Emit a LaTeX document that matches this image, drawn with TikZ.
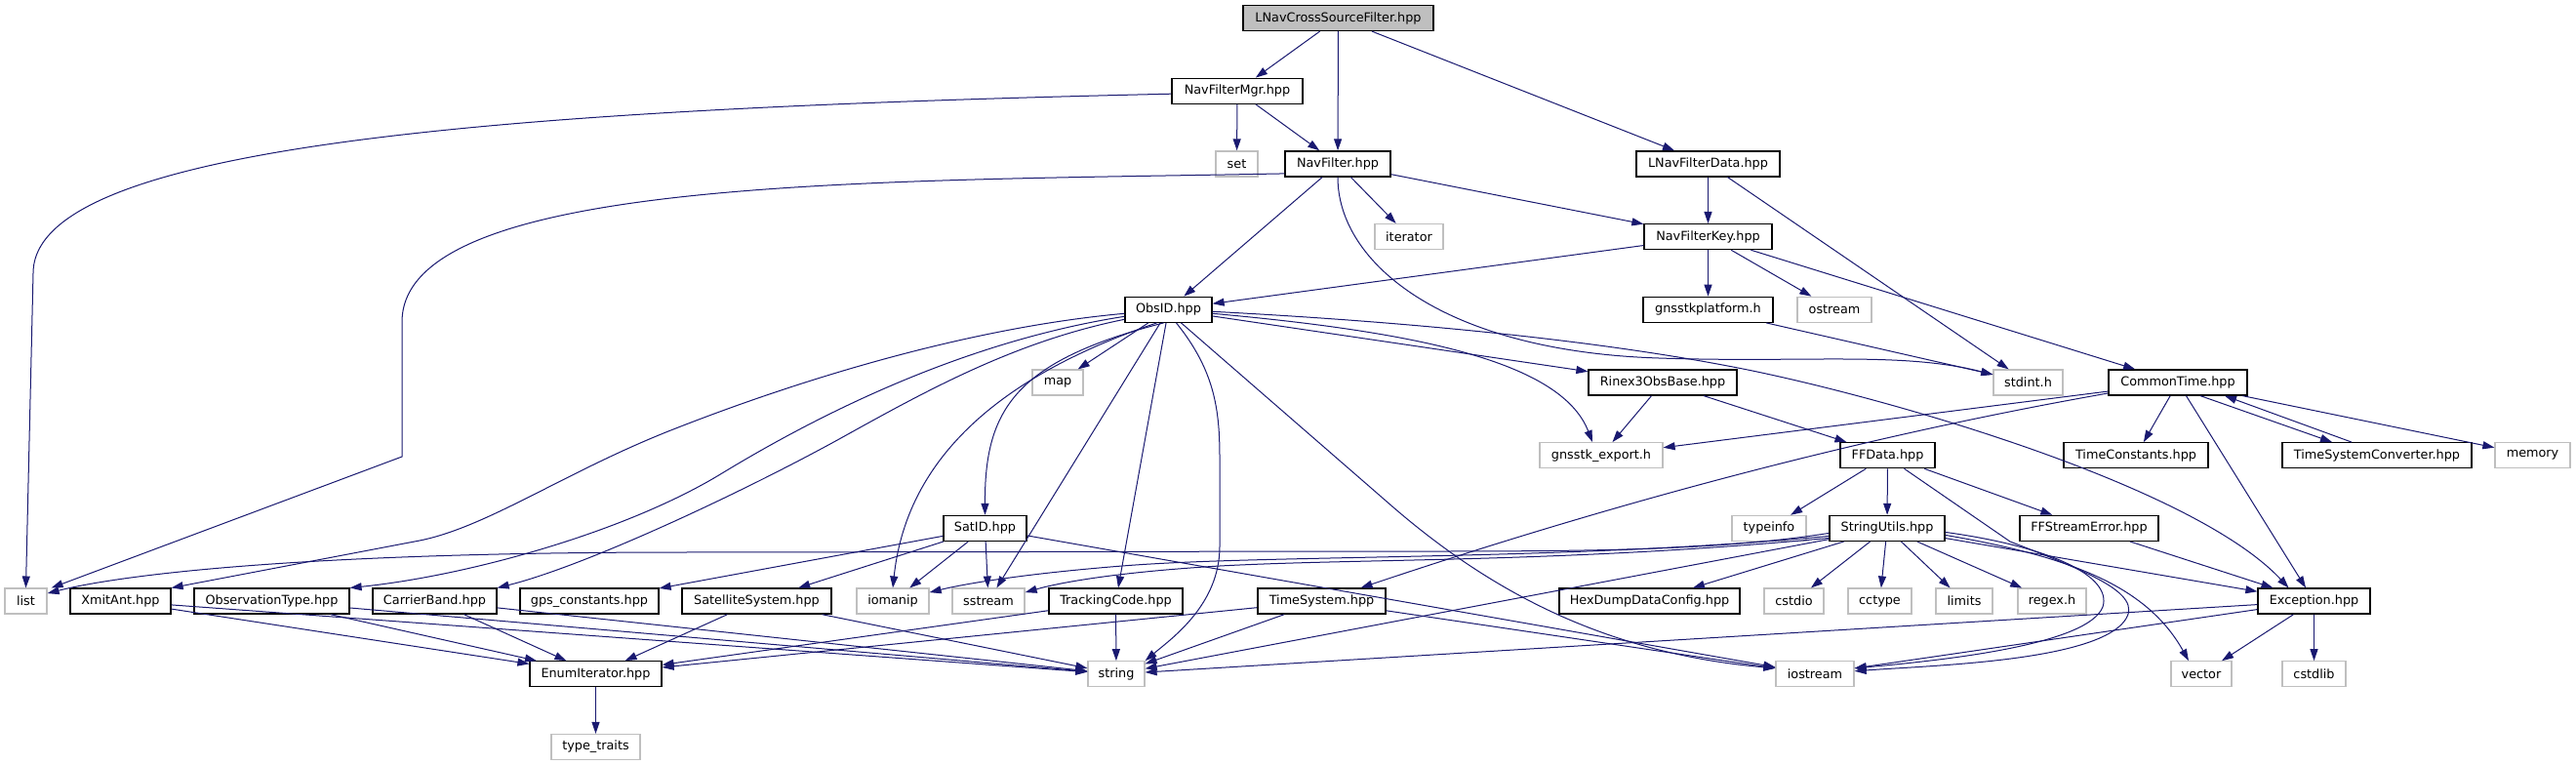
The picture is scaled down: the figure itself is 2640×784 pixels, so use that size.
\documentclass[tikz,border=0pt]{standalone}
\usepackage{fontspec}
\setmainfont{DejaVu Sans}
\usetikzlibrary{arrows.meta,calc}
\definecolor{edgeblue}{HTML}{191970}
\definecolor{grayb}{HTML}{BFBFBF}
\begin{document}
\begin{tikzpicture}[x=1pt,y=-1pt,
  box/.style={draw=black, line width=1.25pt, fill=white, minimum height=26pt, inner sep=0pt, font=\fontsize{12.8}{15}\selectfont},
  sys/.style={box, draw=grayb},
  rootbox/.style={box, fill=grayb},
  e/.style={draw=edgeblue, line width=1.0pt, -{Triangle[length=12pt,width=8pt]}}
]
\useasboundingbox[fill=white] (0,0) rectangle (2640,784);
% row 0
\node[rootbox, minimum width=195pt] (root) at (1371.5,18.5) {LNavCrossSourceFilter.hpp};
% row 1
\node[box, minimum width=134pt] (navmgr) at (1268,93.2) {NavFilterMgr.hpp};
% row 2
\node[sys, minimum width=43pt] (set) at (1267.5,167.9) {set};
\node[box, minimum width=108pt] (navfilter) at (1371,167.9) {NavFilter.hpp};
\node[box, minimum width=147pt] (lnavdata) at (1750.5,167.9) {LNavFilterData.hpp};
% row 3
\node[sys, minimum width=70pt] (iterator) at (1444,242.6) {iterator};
\node[box, minimum width=131pt] (navkey) at (1750.5,242.6) {NavFilterKey.hpp};
% row 4
\node[box, minimum width=89pt] (obsid) at (1197.5,317.3) {ObsID.hpp};
\node[box, minimum width=133pt] (platform) at (1750.5,317.3) {gnsstkplatform.h};
\node[sys, minimum width=76pt] (ostream) at (1880,317.3) {ostream};
% row 5
\node[sys, minimum width=52pt] (map) at (1084,392) {map};
\node[box, minimum width=152pt] (rinex) at (1704,392) {Rinex3ObsBase.hpp};
\node[sys, minimum width=71pt] (stdint) at (2078.5,392) {stdint.h};
\node[box, minimum width=142pt] (commontime) at (2232,392) {CommonTime.hpp};
% row 6
\node[sys, minimum width=126pt] (export) at (1641,466.7) {gnsstk\_export.h};
\node[box, minimum width=97pt] (ffdata) at (1934.5,466.7) {FFData.hpp};
\node[box, minimum width=148pt] (timeconst) at (2189,466.7) {TimeConstants.hpp};
\node[box, minimum width=194pt] (tsconv) at (2436,466.7) {TimeSystemConverter.hpp};
\node[sys, minimum width=77pt] (memory) at (2595.5,466.7) {memory};
% row 7
\node[box, minimum width=85pt] (satid) at (1009.5,541.4) {SatID.hpp};
\node[sys, minimum width=76pt] (typeinfo) at (1813,541.4) {typeinfo};
\node[box, minimum width=118pt] (strutils) at (1934,541.4) {StringUtils.hpp};
\node[box, minimum width=142pt] (ffse) at (2141,541.4) {FFStreamError.hpp};
% row 8
\node[sys, minimum width=43pt] (list) at (26.5,616.1) {list};
\node[box, minimum width=103pt] (xmit) at (123.5,616.1) {XmitAnt.hpp};
\node[box, minimum width=159pt] (obstype) at (278.5,616.1) {ObservationType.hpp};
\node[box, minimum width=127pt] (carrier) at (445.5,616.1) {CarrierBand.hpp};
\node[box, minimum width=142pt] (gpsc) at (604,616.1) {gps\_constants.hpp};
\node[box, minimum width=153pt] (satsys) at (775.5,616.1) {SatelliteSystem.hpp};
\node[sys, minimum width=74pt] (iomanip) at (915,616.1) {iomanip};
\node[sys, minimum width=74pt] (sstream) at (1013,616.1) {sstream};
\node[box, minimum width=137pt] (tracking) at (1143.5,616.1) {TrackingCode.hpp};
\node[box, minimum width=131pt] (timesys) at (1354.5,616.1) {TimeSystem.hpp};
\node[box, minimum width=185pt] (hexdump) at (1690.5,616.1) {HexDumpDataConfig.hpp};
\node[sys, minimum width=61pt] (cstdio) at (1838.5,616.1) {cstdio};
\node[sys, minimum width=65pt] (cctype) at (1926.5,616.1) {cctype};
\node[sys, minimum width=58pt] (limits) at (2013,616.1) {limits};
\node[sys, minimum width=70pt] (regex) at (2103,616.1) {regex.h};
\node[box, minimum width=115pt] (exception) at (2371.5,616.1) {Exception.hpp};
% row 9
\node[box, minimum width=135pt] (enumit) at (610.5,690.8) {EnumIterator.hpp};
\node[sys, minimum width=58pt] (string) at (1144,690.8) {string};
\node[sys, minimum width=80pt] (iostream) at (1860,690.8) {iostream};
\node[sys, minimum width=62pt] (vector) at (2256,690.8) {vector};
\node[sys, minimum width=65pt] (cstdlib) at (2371.5,690.8) {cstdlib};
% row 10
\node[sys, minimum width=91pt] (typetraits) at (610.5,765.5) {type\_traits};

% ---- edges ----
\draw[e] (root) -- (navmgr);
\draw[e] (root) -- (navfilter);
\draw[e] (root) -- (lnavdata);
\draw[e] ($(navmgr.west)+(0,3)$) .. controls (500,112) and (34,150) .. (34,280) -- (list.north);
\draw[e] (navmgr) -- (set);
\draw[e] (navmgr) -- (navfilter);
\draw[e] ($(navfilter.west)+(0,10)$) .. controls (900,186) and (412,180) .. (412,330) -- (412,468) -- ($(list.north east)+(4,0)$);
\draw[e] (navfilter) -- (obsid);
\draw[e] (navfilter) -- (iterator);
\draw[e] (navfilter) -- (navkey);
\draw[e] (navfilter.south) .. controls (1371,270) and (1480,360) .. (1700,367) .. controls (1850,372) and (1950,360) .. ($(stdint.west)+(0,-8)$);
\draw[e] (lnavdata) -- (navkey);
\draw[e] (lnavdata) -- (stdint);
\draw[e] (navkey) -- (obsid);
\draw[e] (navkey) -- (platform);
\draw[e] (navkey) -- (ostream);
\draw[e] (navkey) -- (commontime);
\draw[e] (platform) -- (stdint);
% ObsID
\draw[e] (obsid) -- (map);
\draw[e] (obsid) -- (rinex);
\draw[e] ($(obsid.east)+(0,4)$) .. controls (1450,340) and (1600,370) .. ($(export.north)+(-9,0)$);
\draw[e] ($(obsid.east)+(0,2)$) .. controls (1450,330) and (1650,350) .. (1796,380) .. controls (1950,412) and (2250,500) .. ($(exception.north)+(-26,0)$);
\draw[e] ($(obsid.south)+(-12,0)$) .. controls (1040,380) and (930,460) .. (iomanip.north);
\draw[e] ($(obsid.south)+(-5,0)$) .. controls (1040,370) and (1009,420) .. (satid.north);
\draw[e] (obsid) -- (sstream);
\draw[e] (obsid) -- (tracking);
\draw[e] ($(obsid.south)+(8,0)$) .. controls (1245,380) and (1250,420) .. (1250,470) -- (1250,560) .. controls (1250,620) and (1200,655) .. (string.north east);
\draw[e] ($(obsid.south)+(13,0)$) -- (1420,513) .. controls (1530,610) and (1650,670) .. ($(iostream.west)+(0,-6)$);
\draw[e] ($(obsid.west)+(0,4)$) .. controls (1000,335) and (830,385) .. (690,440) .. controls (580,483) and (500,540) .. (430,554) -- (xmit.north east);
\draw[e] ($(obsid.west)+(0,7)$) .. controls (1020,345) and (880,400) .. (740,485) .. controls (642,545) and (480,590) .. (obstype.north east);
\draw[e] ($(obsid.west)+(0,10)$) .. controls (1040,350) and (950,400) .. (860,450) .. controls (760,505) and (600,580) .. (carrier.north east);
% SatID
\draw[e] (satid) -- (gpsc);
\draw[e] (satid) -- (satsys);
\draw[e] (satid) -- (iomanip);
\draw[e] (satid) -- (sstream);
\draw[e] (satid) -- (iostream);
% CommonTime
\draw[e] (commontime) -- (export);
\draw[e] ($(commontime.west)+(0,11)$) .. controls (1950,440) and (1700,500) .. ($(timesys.north)+(40,0)$);
\draw[e] (commontime) -- (timeconst);
\draw[e] (commontime) -- (exception);
\draw[e] ($(commontime.south)+(23,0)$) -- ($(tsconv.north)+(-46,0)$);
\draw[e] ($(tsconv.north)+(-26,0)$) -- ($(commontime.south)+(48,0)$);
\draw[e] (commontime) -- (memory);
% Rinex3ObsBase
\draw[e] (rinex) -- (export);
\draw[e] (rinex) -- (ffdata);
% FFData
\draw[e] (ffdata) -- (typeinfo);
\draw[e] (ffdata) -- (strutils);
\draw[e] (ffdata) -- (ffse);
\draw[e] ($(ffdata.south)+(17,0)$) -- (2060,555) .. controls (2150,590) and (2205,612) .. (2172,642) .. controls (2130,678) and (1980,682) .. ($(iostream.east)+(0,-3)$);
% StringUtils
\draw[e] ($(strutils.west)+(0,5)$) .. controls (1750,566) and (1600,565) .. (1400,565) -- (700,566) .. controls (300,566) and (120,590) .. ($(list.east)+(0,-8)$);
\draw[e] ($(strutils.west)+(0,8)$) .. controls (1600,575) and (1300,568) .. (1150,580) .. controls (1050,588) and (990,598) .. ($(iomanip.east)+(0,-9)$);
\draw[e] ($(strutils.west)+(0,10)$) .. controls (1600,577) and (1400,572) .. (1250,580) .. controls (1150,586) and (1090,596) .. ($(sstream.east)+(0,-9)$);
\draw[e] (strutils) -- (string);
\draw[e] (strutils) -- (hexdump);
\draw[e] (strutils) -- (cstdio);
\draw[e] (strutils) -- (cctype);
\draw[e] (strutils) -- (limits);
\draw[e] (strutils) -- (regex);
\draw[e] (strutils) -- (exception);
\draw[e] ($(strutils.east)+(0,7)$) .. controls (2120,570) and (2200,600) .. ($(vector.north)+(-13,0)$);
\draw[e] ($(strutils.east)+(0,4)$) .. controls (2100,560) and (2165,590) .. (2155,622) .. controls (2140,660) and (2000,676) .. ($(iostream.east)+(0,-6)$);
% FFStreamError
\draw[e] (ffse) -- (exception);
% Exception
\draw[e] (exception) -- (string);
\draw[e] (exception) -- (iostream);
\draw[e] (exception) -- (vector);
\draw[e] (exception) -- (cstdlib);
% TimeSystem
\draw[e] (timesys) -- (string);
\draw[e] (timesys) -- (iostream);
\draw[e] (timesys) -- (enumit);
% TrackingCode
\draw[e] (tracking) -- (string);
\draw[e] (tracking) -- (enumit);
% lower row
\draw[e] (xmit) -- (enumit);
\draw[e] (xmit) -- (string);
\draw[e] (obstype) -- (enumit);
\draw[e] (obstype) -- (string);
\draw[e] (carrier) -- (enumit);
\draw[e] (carrier) -- (string);
\draw[e] (satsys) -- (enumit);
\draw[e] (satsys) -- (string);
\draw[e] (enumit) -- (typetraits);
\end{tikzpicture}
\end{document}
